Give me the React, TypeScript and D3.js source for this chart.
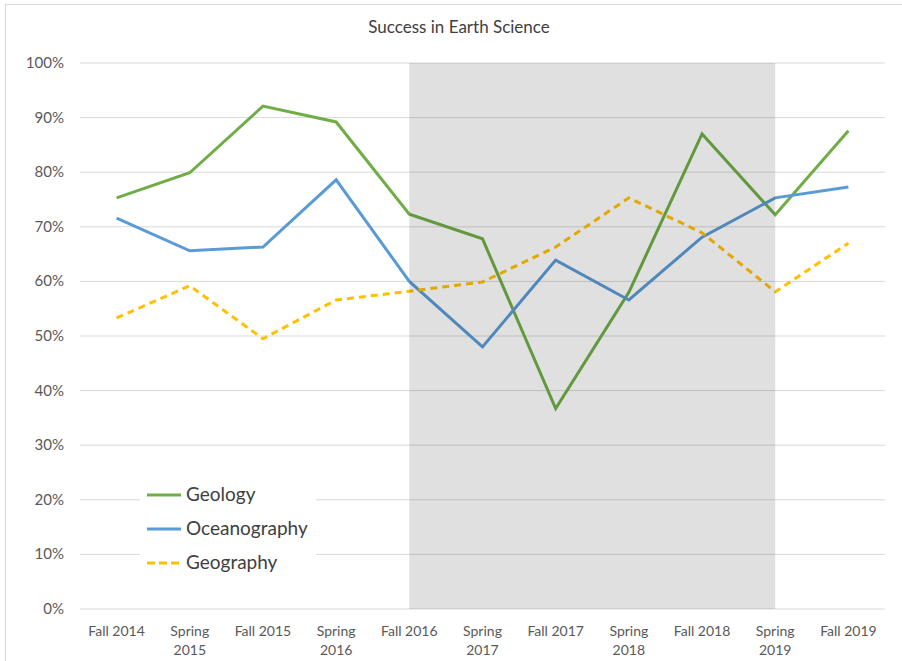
import React from "react";
import * as d3 from "d3";

const categories = [
  ["Fall 2014"], ["Spring", "2015"], ["Fall 2015"], ["Spring", "2016"], ["Fall 2016"],
  ["Spring", "2017"], ["Fall 2017"], ["Spring", "2018"], ["Fall 2018"], ["Spring", "2019"], ["Fall 2019"],
];
const geology = [75.3, 79.9, 92.1, 89.2, 72.3, 67.8, 36.7, 58.0, 87.0, 72.2, 87.6];
const oceanography = [71.6, 65.6, 66.3, 78.6, 60.0, 48.0, 63.9, 56.6, 68.1, 75.3, 77.3];
const geography = [53.3, 59.2, 49.5, 56.6, 58.2, 59.9, 66.3, 75.3, 68.9, 58.1, 67.0];
const yTicks = [0, 10, 20, 30, 40, 50, 60, 70, 80, 90, 100];
const shadeFrom = 4;
const shadeTo = 9;

const series = [
  { name: "Geology", values: geology, color: "#70AD47", dash: null },
  { name: "Oceanography", values: oceanography, color: "#5B9BD5", dash: null },
  { name: "Geography", values: geography, color: "#FFC000", dash: "7,5" },
];

export default function App() {
  const W = 902, H = 661;
  const left = 80, right = 885, top = 63, bottom = 609;
  const x = d3.scalePoint<number>().domain(d3.range(categories.length)).range([left, right]).padding(0.5);
  const y = d3.scaleLinear().domain([0, 100]).range([bottom, top]);
  const font = "Lato, 'Open Sans', sans-serif";
  const line = (vals: number[]) =>
    d3.line<number>().x((_, i) => x(i)!).y((d) => y(d))(vals) || "";

  return (
    <svg width={W} height={H} style={{ position: "absolute", left: 0, top: 0 }}>
      <rect x={0} y={0} width={W} height={H} fill="#fff" />
      <rect x={5.5} y={4.5} width={W} height={H} fill="none" stroke="#d9d9d9" />
      <text x={459} y={33} textAnchor="middle" fontFamily={font} fontSize={17} fill="#404040">
        Success in Earth Science
      </text>
      {yTicks.map((t) => (
        <g key={t}>
          <line x1={left} x2={right} y1={y(t)} y2={y(t)} stroke="#d9d9d9" strokeWidth={1} />
          <text x={64} y={y(t) + 5} textAnchor="end" fontFamily={font} fontSize={15} fill="#595959">
            {t}%
          </text>
        </g>
      ))}
      {categories.map((c, i) => (
        <text key={i} x={x(i)!} y={636} textAnchor="middle" fontFamily={font} fontSize={14} fill="#595959">
          {c.map((s, j) => (
            <tspan key={j} x={x(i)!} dy={j === 0 ? 0 : 19}>{s}</tspan>
          ))}
        </text>
      ))}
      {series.map((s) => (
        <path key={s.name} d={line(s.values)} fill="none" stroke={s.color} strokeWidth={3}
          strokeDasharray={s.dash || undefined} strokeLinejoin="miter" />
      ))}
      <rect x={x(shadeFrom)!} y={top} width={x(shadeTo)! - x(shadeFrom)!} height={bottom - top}
        fill="#000" fillOpacity={0.12} />
      <rect x={140} y={460} width={176} height={140} fill="#fff" />
      {series.map((s, i) => (
        <g key={s.name}>
          <line x1={147} x2={181} y1={495 + i * 34} y2={495 + i * 34} stroke={s.color} strokeWidth={3}
            strokeDasharray={s.dash ? "8,4" : undefined} />
          <text x={186} y={501 + i * 34} fontFamily={font} fontSize={19} fill="#404040">{s.name}</text>
        </g>
      ))}
    </svg>
  );
}
